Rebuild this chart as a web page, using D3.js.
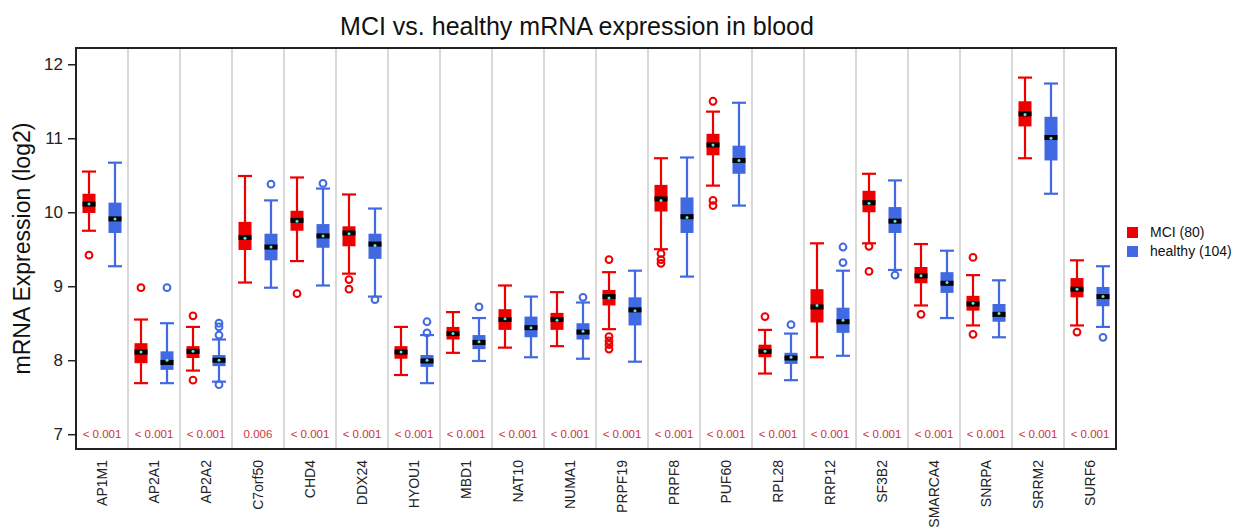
<!DOCTYPE html>
<html><head><meta charset="utf-8">
<script src="https://cdn.jsdelivr.net/npm/d3@7"></script>
<style>body{margin:0;background:#fff;} svg{display:block;font-family:"Liberation Sans",Arial,sans-serif;}</style>
</head><body>
<svg id="chart" width="1240" height="531"></svg>
<script>
const genes = ["AP1M1","AP2A1","AP2A2","C7orf50","CHD4","DDX24","HYOU1","MBD1","NAT10","NUMA1","PRPF19","PRPF8","PUF60","RPL28","RRP12","SF3B2","SMARCA4","SNRPA","SRRM2","SURF6"];
const groups = ["MCI (80)","healthy (104)"];
// [whisker low, Q1, median, Q3, whisker high]
const mciBox = [
 [9.75,9.99,10.11,10.25,10.55],[7.69,7.96,8.11,8.23,8.55],[7.86,8.03,8.12,8.19,8.45],[9.05,9.49,9.66,9.87,10.49],
 [9.34,9.75,9.89,10.02,10.47],[9.17,9.54,9.72,9.81,10.24],[7.80,8.02,8.11,8.19,8.45],[8.10,8.28,8.36,8.45,8.65],
 [8.17,8.41,8.55,8.69,9.01],[8.19,8.41,8.55,8.64,8.92],[8.42,8.74,8.86,8.95,9.19],[9.50,10.01,10.18,10.37,10.73],
 [10.36,10.77,10.91,11.06,11.36],[7.82,8.04,8.12,8.21,8.41],[8.04,8.51,8.72,8.96,9.58],[9.58,10.00,10.13,10.29,10.52],
 [8.74,9.04,9.14,9.26,9.57],[8.47,8.67,8.76,8.87,9.15],[10.73,11.16,11.33,11.50,11.82],[8.47,8.85,8.96,9.11,9.35]];
const healthyBox = [
 [9.27,9.72,9.91,10.13,10.67],[7.69,7.87,7.97,8.12,8.50],[7.71,7.92,8.00,8.07,8.28],[8.98,9.35,9.53,9.71,10.16],
 [9.01,9.52,9.68,9.84,10.32],[8.86,9.37,9.57,9.71,10.05],[7.69,7.91,7.99,8.07,8.34],[7.99,8.15,8.24,8.34,8.57],
 [8.04,8.31,8.44,8.59,8.86],[8.02,8.28,8.38,8.50,8.78],[7.98,8.47,8.68,8.85,9.21],[9.13,9.72,9.94,10.20,10.74],
 [10.09,10.52,10.70,10.90,11.48],[7.73,7.95,8.03,8.10,8.36],[8.06,8.37,8.52,8.71,9.21],[9.22,9.72,9.88,10.07,10.43],
 [8.57,8.91,9.04,9.19,9.48],[8.31,8.52,8.62,8.76,9.08],[10.25,10.70,11.01,11.29,11.74],[8.45,8.73,8.86,8.99,9.27]];
const mciMean = [10.11,8.11,8.12,9.65,9.88,9.71,8.11,8.36,8.56,8.54,8.84,10.16,10.91,8.12,8.74,10.12,9.14,8.77,11.32,8.96];
const healthyMean = [9.91,8.00,8.00,9.53,9.68,9.55,8.00,8.25,8.44,8.39,8.67,9.93,10.70,8.04,8.54,9.88,9.05,8.63,11.00,8.86];
const mciOutliers = [[9.42],[8.98],[8.60,7.73],[],[8.90],[9.09,8.96],[],[],[],[],[9.36,8.32,8.26,8.21,8.15],[9.44,9.36,9.31],[11.50,10.16,10.09],[8.59],[],[9.54,9.20],[8.62],[9.39,8.35],[],[8.38]];
const healthyOutliers = [[],[8.98],[8.50,8.45,8.34,7.67],[10.38],[10.39],[8.82],[8.52,8.37],[8.72],[],[8.85],[],[],[],[8.48],[9.53,9.32],[9.15],[],[],[],[8.31]];
const pValues = ["< 0.001","< 0.001","< 0.001","0.006","< 0.001","< 0.001","< 0.001","< 0.001","< 0.001","< 0.001","< 0.001","< 0.001","< 0.001","< 0.001","< 0.001","< 0.001","< 0.001","< 0.001","< 0.001","< 0.001"];
const yTicks = [7,8,9,10,11,12];
const colors = ["#ee0000","#4169e1"];

const svg = d3.select("#chart");
const L=76, R=1116, T=48, B=449;
const x = d3.scaleBand().domain(genes).range([L,R]).padding(0);
const xs = d3.scaleBand().domain(groups).range([0,x.bandwidth()]);
const y = d3.scaleLinear().domain([6.8,12.22]).range([B,T]);
const bw = 13;

svg.append("g").selectAll("line").data(genes.slice(1)).join("line")
  .attr("x1",d=>x(d)).attr("x2",d=>x(d)).attr("y1",T).attr("y2",B)
  .attr("stroke","#cccccc").attr("stroke-width",1.5);

svg.append("g").selectAll("text").data(genes).join("text")
  .attr("x",d=>x(d)+x.bandwidth()/2).attr("y",y(7)).attr("dy","0.35em")
  .attr("text-anchor","middle").attr("font-size",11.5).attr("fill","#c8343a")
  .text((d,i)=>pValues[i]);

const series = [
  {box:mciBox, mean:mciMean, out:mciOutliers, g:groups[0], c:colors[0]},
  {box:healthyBox, mean:healthyMean, out:healthyOutliers, g:groups[1], c:colors[1]}];

series.forEach(s=>{
  const g = svg.append("g");
  genes.forEach((gene,i)=>{
    const b = s.box[i];
    const cx = x(gene)+xs(s.g)+xs.bandwidth()/2;
    g.append("line").attr("x1",cx).attr("x2",cx).attr("y1",y(b[0])).attr("y2",y(b[4])).attr("stroke",s.c).attr("stroke-width",2.2);
    [b[0],b[4]].forEach(v=>g.append("line").attr("x1",cx-7).attr("x2",cx+7).attr("y1",y(v)).attr("y2",y(v)).attr("stroke",s.c).attr("stroke-width",2.2));
    g.append("rect").attr("x",cx-bw/2).attr("width",bw).attr("y",y(b[3])).attr("height",y(b[1])-y(b[3])).attr("fill",s.c);
    g.append("rect").attr("x",cx-bw/2).attr("width",bw).attr("y",y(b[2])-2.5).attr("height",5).attr("fill","#000");
    g.append("circle").attr("cx",cx).attr("cy",y(s.mean[i])).attr("r",1.5).attr("fill","#5fe8e0");
    s.out[i].forEach(v=>g.append("circle").attr("cx",cx).attr("cy",y(v)).attr("r",3.4).attr("fill","none").attr("stroke",s.c).attr("stroke-width",2));
  });
});

svg.append("rect").attr("x",L).attr("y",T).attr("width",R-L).attr("height",B-T).attr("fill","none").attr("stroke","#222").attr("stroke-width",2);

const ya = svg.append("g").attr("transform",`translate(${L},0)`).call(d3.axisLeft(y).tickValues(yTicks).tickFormat(d3.format("d")).tickSize(8).tickPadding(5));
ya.select(".domain").remove();
ya.selectAll(".tick line").attr("stroke","#222").attr("stroke-width",1.5);
ya.selectAll(".tick text").attr("font-size",17).attr("fill","#222").attr("font-family","Liberation Sans, Arial, sans-serif");

const xa = svg.append("g").attr("transform",`translate(0,${B})`).call(d3.axisBottom(x).tickSize(0).tickPadding(0));
xa.select(".domain").remove();
xa.selectAll(".tick text").attr("font-size",14).attr("fill","#222").attr("font-family","Liberation Sans, Arial, sans-serif")
  .attr("transform","rotate(-90)").attr("text-anchor","end").attr("x",-11).attr("y",0).attr("dy","0.35em");

svg.append("text").attr("x",577).attr("y",35).attr("text-anchor","middle").attr("font-size",25).attr("fill","#111")
  .text("MCI vs. healthy mRNA expression in blood");
svg.append("text").attr("transform",`translate(30,${(T+B)/2}) rotate(-90)`).attr("text-anchor","middle").attr("font-size",23).attr("fill","#111")
  .text("mRNA Expression (log2)");

const lg = svg.append("g").attr("transform","translate(1127,227)");
groups.forEach((gname,i)=>{
  lg.append("rect").attr("x",0).attr("y",i*19).attr("width",11).attr("height",11).attr("fill",colors[i]);
  lg.append("text").attr("x",23).attr("y",i*19+5.5).attr("dy","0.35em").attr("font-size",14).attr("fill","#111").text(gname);
});
</script>
</body></html>
